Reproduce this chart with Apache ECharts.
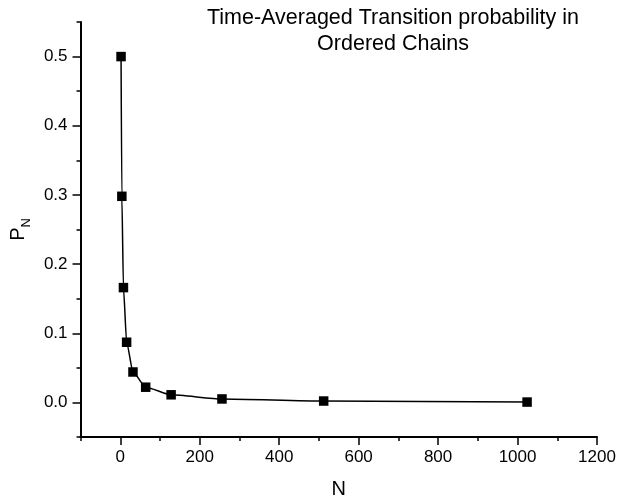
<!DOCTYPE html>
<html>
<head>
<meta charset="utf-8">
<script src="https://cdn.jsdelivr.net/npm/echarts@6/dist/echarts.min.js"></script>
<style>html,body{margin:0;padding:0;background:#fff;}#c{width:619px;height:504px;}</style>
</head>
<body>
<div id="c"></div>
<script>
var nValues = [2, 4, 8, 16, 32, 64, 128, 256, 512, 1024];
var pValues = [0.5, 0.298, 0.166, 0.087, 0.044, 0.022, 0.011, 0.005, 0.002, 0.0005];
var xMajorTicks = [0, 200, 400, 600, 800, 1000, 1200];
var yMajorTicks = [0.0, 0.1, 0.2, 0.3, 0.4, 0.5];
var titleLines = ['Time-Averaged Transition probability in', 'Ordered Chains'];

var FONT = 'Liberation Sans, Arial, sans-serif';
var chart = echarts.init(document.getElementById('c'), null, {renderer: 'canvas'});
var data = nValues.map(function (n, i) { return [n, pValues[i]]; });

var gridL = 80, gridR = 22, gridT = 22, gridB = 66;

chart.setOption({
  animation: false,
  backgroundColor: '#fff',
  grid: {left: gridL, right: gridR, top: gridT, bottom: gridB, containLabel: false},
  graphic: [{
    type: 'text',
    x: 393, y: 5,
    style: {
      text: titleLines.join('\n'),
      align: 'center', verticalAlign: 'top',
      font: '21.5px ' + FONT, lineHeight: 26, fill: '#000'
    }
  }],
  xAxis: [{
    type: 'value', min: -100, max: 1200,
    position: 'bottom',
    axisLine: {show: true, onZero: false, lineStyle: {color: '#000', width: 2}},
    axisTick: {show: true, inside: false, length: 8, lineStyle: {color: '#000', width: 1.5}, customValues: xMajorTicks},
    axisLabel: {show: true, margin: 12, color: '#000', fontSize: 17, fontFamily: FONT, customValues: xMajorTicks,
      formatter: function (v) { return String(v); }},
    splitLine: {show: false},
    name: 'N', nameLocation: 'middle', nameGap: 42,
    nameTextStyle: {color: '#000', fontSize: 20, fontFamily: FONT}
  }, {
    type: 'value', min: -100, max: 1200, interval: 100,
    position: 'bottom', offset: 0,
    axisLine: {show: false, onZero: false},
    axisTick: {show: true, inside: false, length: 4, lineStyle: {color: '#000', width: 1.5}},
    axisLabel: {show: false},
    splitLine: {show: false}
  }],
  yAxis: [{
    type: 'value', min: -0.05, max: 0.55,
    position: 'left',
    axisLine: {show: true, onZero: false, lineStyle: {color: '#000', width: 2}},
    axisTick: {show: true, inside: false, length: 8, lineStyle: {color: '#000', width: 1.5}, customValues: yMajorTicks},
    axisLabel: {show: true, margin: 13, color: '#000', fontSize: 17, fontFamily: FONT, customValues: yMajorTicks,
      formatter: function (v) { return v.toFixed(1); }},
    splitLine: {show: false},
    name: '{p|P}{s|N}', nameLocation: 'middle', nameGap: 38,
    nameTextStyle: {
      color: '#000', fontFamily: FONT,
      rich: {
        p: {fontSize: 20, lineHeight: 20, verticalAlign: 'top', fontFamily: FONT, color: '#000'},
        s: {fontSize: 13, lineHeight: 13, verticalAlign: 'top', padding: [12, 0, 0, 0], fontFamily: FONT, color: '#000'}
      }
    }
  }, {
    type: 'value', min: -0.05, max: 0.55, interval: 0.05,
    position: 'left', offset: 0,
    axisLine: {show: false, onZero: false},
    axisTick: {show: true, inside: false, length: 4, lineStyle: {color: '#000', width: 1.5}},
    axisLabel: {show: false},
    splitLine: {show: false}
  }],
  series: [{
    type: 'line',
    xAxisIndex: 0, yAxisIndex: 0,
    data: data,
    smooth: 0.2,
    smoothMonotone: 'x',
    symbol: 'rect', symbolSize: 9.5,
    showAllSymbol: true,
    lineStyle: {color: '#000', width: 1.5},
    itemStyle: {color: '#000'}
  }]
});
</script>
</body>
</html>
